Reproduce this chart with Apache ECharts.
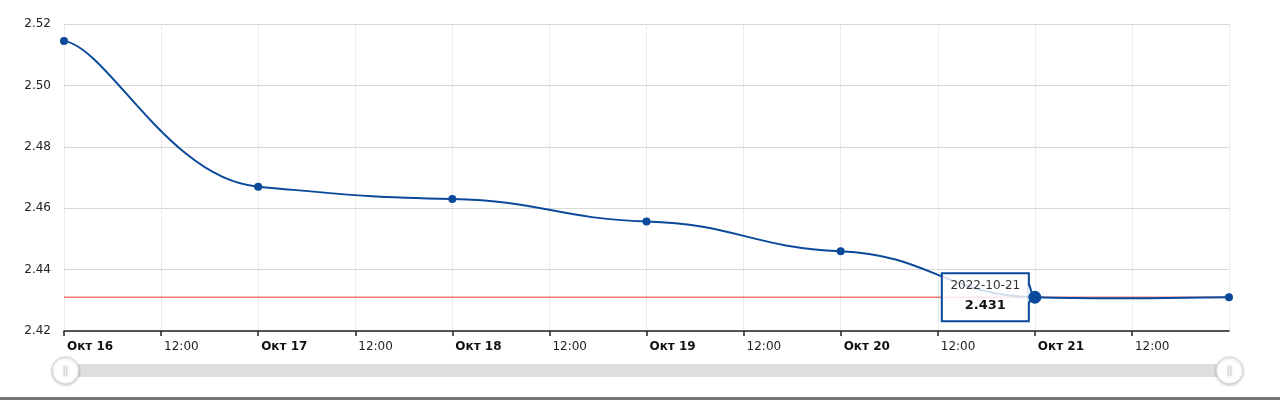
<!DOCTYPE html>
<html><head><meta charset="utf-8">
<script src="https://cdn.jsdelivr.net/npm/echarts@6/dist/echarts.min.js"></script>
<style>html,body{margin:0;padding:0;background:#fff}#c{width:1280px;height:403px}</style>
</head><body><div id="c"></div>
<script>
const dates = ['2022-10-16','2022-10-17','2022-10-18','2022-10-19','2022-10-20','2022-10-21','2022-10-22'];
const values = [2.5145, 2.467, 2.463, 2.4557, 2.446, 2.431, 2.431];
const lastValue = 2.431;
const highlightIndex = 5;
const monthName = 'Окт';
const yTicks = [2.42, 2.44, 2.46, 2.48, 2.50, 2.52];

const t0 = Date.parse(dates[0] + 'T00:00:00Z');
const hours = dates.map(d => (Date.parse(d + 'T00:00:00Z') - t0) / 3600000);
const blue = '#0b4a9a';
const red = '#f07878';
const font = 'DejaVu Sans';

const seriesData = values.map((v, i) => {
  const item = {value: [hours[i], v]};
  if (i === highlightIndex) item.symbolSize = 13;
  return item;
});

// smoothed line with separate x / y tension (Catmull-Rom style control points)
const tensionX = 0.23, tensionY = 0.05;
function renderCurve(params, api) {
  if (params.dataIndex !== 0) return null;
  const pts = hours.map((h, i) => api.coord([h, values[i]]));
  const n = pts.length;
  const hnd = pts.map((p, i) => {
    const prev = pts[Math.max(0, i - 1)], next = pts[Math.min(n - 1, i + 1)];
    return [(next[0] - prev[0]) * tensionX, (next[1] - prev[1]) * tensionY];
  });
  let d = 'M' + pts[0][0] + ' ' + pts[0][1];
  for (let i = 0; i < n - 1; i++) {
    const a = pts[i], b = pts[i + 1];
    d += ' C' + (a[0] + hnd[i][0]) + ' ' + (a[1] + hnd[i][1]) + ' ' +
      (b[0] - hnd[i + 1][0]) + ' ' + (b[1] - hnd[i + 1][1]) + ' ' + b[0] + ' ' + b[1];
  }
  const l0 = api.coord([hours[0], lastValue]);
  const l1 = api.coord([hours[n - 1], lastValue]);
  return {
    type: 'group',
    children: [
      {type: 'line', shape: {x1: l0[0], y1: l0[1], x2: l1[0], y2: l1[1]},
        style: {stroke: red, lineWidth: 1.5}},
      {type: 'path', shape: {pathData: d}, style: {fill: null, stroke: blue, lineWidth: 2}}
    ]
  };
}

const chart = echarts.init(document.getElementById('c'), null, {renderer: 'canvas'});
chart.setOption({
  animation: false,
  grid: {left: 64, right: 51, top: 24, bottom: 72},
  xAxis: {
    type: 'value', min: 0, max: hours[hours.length - 1], interval: 12,
    axisLine: {show: true, lineStyle: {color: '#222', width: 1.5}},
    axisTick: {show: true, length: 5, lineStyle: {color: '#222', width: 1.5}},
    splitLine: {show: true, lineStyle: {color: '#d8d8d8', type: 'dotted'}},
    axisLabel: {
      margin: 10, fontFamily: font, fontSize: 12, color: '#222',
      align: 'left', padding: [0, 0, 0, 3],
      showMaxLabel: false,
      formatter: (val) => {
        if (val % 24 === 0) {
          const idx = val / 24;
          const day = dates[idx] ? parseInt(dates[idx].slice(8), 10) : '';
          return '{b|' + monthName + ' ' + day + '}';
        }
        return '12:00';
      },
      rich: {b: {fontFamily: font, fontSize: 12, fontWeight: 'bold', color: '#111'}}
    }
  },
  yAxis: {
    type: 'value', min: yTicks[0], max: yTicks[yTicks.length - 1], interval: 0.02,
    axisLine: {show: false}, axisTick: {show: false},
    splitLine: {show: true, lineStyle: {color: '#d8d8d8', width: 1}},
    axisLabel: {margin: 13, fontFamily: font, fontSize: 12, color: '#222',
      formatter: v => v.toFixed(2)}
  },
  dataZoom: [{
    type: 'slider', xAxisIndex: 0, start: 0, end: 100,
    left: 63, right: 51, bottom: 26, height: 13,
    showDetail: false, showDataShadow: false, brushSelect: false,
    backgroundColor: '#dedede', fillerColor: '#dedede', borderColor: 'transparent',
    dataBackground: {lineStyle: {opacity: 0}, areaStyle: {opacity: 0}},
    selectedDataBackground: {lineStyle: {opacity: 0}, areaStyle: {opacity: 0}},
    handleIcon: 'path://M50,0A50,50,0,1,1,49.9,0Z M45,30V70 M55,30V70',
    handleSize: 27,
    handleStyle: {color: '#fff', borderColor: '#d0d0d0', borderWidth: 1, shadowBlur: 3, shadowColor: 'rgba(0,0,0,0.2)', shadowOffsetY: 1},
    moveHandleSize: 0,
    emphasis: {handleStyle: {color: '#fff', borderColor: '#ccc'}}
  }],
  series: [
    {
      type: 'custom', renderItem: renderCurve, silent: true, z: 2,
      data: hours.map((h, i) => [h, values[i]])
    },
    {
      type: 'scatter', data: seriesData,
      symbol: 'circle', symbolSize: 8,
      itemStyle: {color: blue, opacity: 1},
      z: 20
    }
  ]
});

// tooltip box for the highlighted point + page bottom border
const p = chart.convertToPixel({gridIndex: 0}, [hours[highlightIndex], values[highlightIndex]]);
const boxW = 87, boxH = 48;
const bx = p[0] - 6 - boxW, by = p[1] - boxH / 2;
chart.setOption({
  graphic: [
    {type: 'rect', left: 0, top: 397, z: 100, shape: {width: 1280, height: 3}, style: {fill: '#777'}},
    {type: 'rect', z: 10, shape: {x: bx, y: by, width: boxW, height: boxH},
      style: {fill: 'rgba(255,255,255,0.82)', stroke: blue, lineWidth: 2}},
    {type: 'polygon', z: 11, shape: {points: [[bx + boxW - 1, p[1] - 13], [p[0] - 2, p[1] - 1], [bx + boxW - 1, p[1] + 5]]},
      style: {fill: 'rgba(255,255,255,0.9)'}},
    {type: 'polyline', z: 12, shape: {points: [[bx + boxW, p[1] - 14], [p[0] - 2, p[1] - 1], [bx + boxW, p[1] + 6]]},
      style: {stroke: blue, lineWidth: 2, fill: null}},
    {type: 'text', z: 13, x: bx + boxW / 2, y: by + 12.5,
      style: {text: dates[highlightIndex], fontFamily: font, fontSize: 12, fill: '#333', align: 'center', verticalAlign: 'middle'}},
    {type: 'text', z: 13, x: bx + boxW / 2, y: by + 32.5,
      style: {text: values[highlightIndex].toFixed(3), fontFamily: font, fontSize: 13, fontWeight: 'bold', fill: '#111', align: 'center', verticalAlign: 'middle'}}
  ]
});
</script></body></html>
